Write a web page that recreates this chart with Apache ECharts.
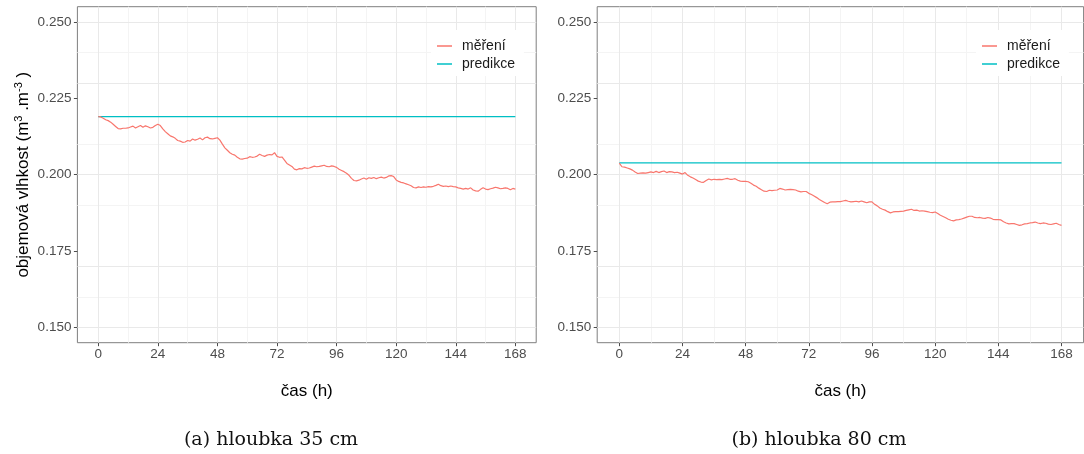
<!DOCTYPE html>
<html>
<head>
<meta charset="utf-8">
<script src="https://cdn.jsdelivr.net/npm/echarts@6/dist/echarts.min.js"></script>
<style>
  html, body { margin: 0; padding: 0; background: #ffffff; }
  #chart { width: 1084px; height: 454px; }
</style>
</head>
<body>
<div id="chart"></div>
<script>
// Hourly soil moisture over one week (0–168 h) at two depths
const hours = Array.from({ length: 169 }, (_, i) => i);

const mereni35 = [
  0.2190, 0.2189, 0.2185, 0.2180, 0.2177, 0.2172, 0.2165, 0.2158, 0.2151, 0.2150,
  0.2152, 0.2152, 0.2153, 0.2156, 0.2159, 0.2153, 0.2157, 0.2161, 0.2155, 0.2160,
  0.2157, 0.2153, 0.2155, 0.2161, 0.2165, 0.2161, 0.2150, 0.2141, 0.2134, 0.2127,
  0.2124, 0.2119, 0.2112, 0.2110, 0.2106, 0.2107, 0.2112, 0.2110, 0.2117, 0.2113,
  0.2116, 0.2120, 0.2114, 0.2121, 0.2123, 0.2118, 0.2117, 0.2119, 0.2121, 0.2113,
  0.2100, 0.2088, 0.2080, 0.2072, 0.2067, 0.2064, 0.2057, 0.2052, 0.2051, 0.2053,
  0.2054, 0.2059, 0.2057, 0.2058, 0.2061, 0.2067, 0.2063, 0.2060, 0.2064, 0.2066,
  0.2065, 0.2072, 0.2060, 0.2057, 0.2058, 0.2048, 0.2037, 0.2032, 0.2027, 0.2018,
  0.2016, 0.2020, 0.2019, 0.2023, 0.2021, 0.2022, 0.2025, 0.2028, 0.2026, 0.2027,
  0.2029, 0.2031, 0.2027, 0.2026, 0.2029, 0.2027, 0.2024, 0.2018, 0.2014, 0.2010,
  0.2005, 0.1998, 0.1988, 0.1981, 0.1980, 0.1982, 0.1986, 0.1989, 0.1985, 0.1990,
  0.1988, 0.1991, 0.1987, 0.1990, 0.1992, 0.1989, 0.1991, 0.1996, 0.1997, 0.1994,
  0.1983, 0.1978, 0.1975, 0.1973, 0.1970, 0.1967, 0.1964, 0.1958, 0.1957, 0.1960,
  0.1958, 0.1960, 0.1959, 0.1961, 0.1960, 0.1962, 0.1965, 0.1969, 0.1964, 0.1962,
  0.1963, 0.1961, 0.1963, 0.1961, 0.1960, 0.1957, 0.1955, 0.1953, 0.1955, 0.1953,
  0.1957, 0.1950, 0.1947, 0.1946, 0.1952, 0.1957, 0.1953, 0.1951, 0.1954, 0.1956,
  0.1959, 0.1957, 0.1954, 0.1955, 0.1957, 0.1955, 0.1951, 0.1955, 0.1953
];

const mereni80 = [
  0.2038, 0.2026, 0.2025, 0.2022, 0.2019, 0.2015, 0.2009, 0.2004, 0.2005, 0.2006,
  0.2005, 0.2007, 0.2009, 0.2007, 0.2011, 0.2007, 0.2010, 0.2012, 0.2007, 0.2010,
  0.2009, 0.2007, 0.2008, 0.2005, 0.2002, 0.2007, 0.1998, 0.1993, 0.1989, 0.1984,
  0.1979, 0.1976, 0.1975, 0.1981, 0.1986, 0.1983, 0.1985, 0.1984, 0.1985, 0.1984,
  0.1986, 0.1988, 0.1985, 0.1985, 0.1987, 0.1982, 0.1979, 0.1978, 0.1978, 0.1977,
  0.1972, 0.1966, 0.1962, 0.1956, 0.1951, 0.1946, 0.1945, 0.1949, 0.1948, 0.1949,
  0.1950, 0.1955, 0.1953, 0.1950, 0.1951, 0.1952, 0.1951, 0.1950, 0.1946, 0.1944,
  0.1945, 0.1945, 0.1939, 0.1935, 0.1930, 0.1925, 0.1919, 0.1914, 0.1909, 0.1905,
  0.1910, 0.1911, 0.1911, 0.1912, 0.1912, 0.1914, 0.1916, 0.1913, 0.1911, 0.1912,
  0.1913, 0.1911, 0.1914, 0.1911, 0.1908, 0.1911, 0.1911, 0.1903, 0.1898, 0.1891,
  0.1887, 0.1884, 0.1879, 0.1875, 0.1878, 0.1879, 0.1879, 0.1880, 0.1881, 0.1883,
  0.1885, 0.1887, 0.1883, 0.1884, 0.1881, 0.1882, 0.1881, 0.1879, 0.1877, 0.1876,
  0.1878, 0.1873, 0.1867, 0.1863, 0.1859, 0.1854, 0.1851, 0.1849, 0.1852, 0.1853,
  0.1855, 0.1858, 0.1861, 0.1864, 0.1864, 0.1860, 0.1859, 0.1860, 0.1858, 0.1857,
  0.1860, 0.1858, 0.1854, 0.1853, 0.1853, 0.1852, 0.1846, 0.1842, 0.1839, 0.1840,
  0.1840, 0.1837, 0.1834, 0.1836, 0.1839, 0.1840, 0.1842, 0.1843, 0.1845, 0.1842,
  0.1840, 0.1842, 0.1841, 0.1838, 0.1837, 0.1839, 0.1841, 0.1837, 0.1834
];

// Model prediction is constant over the whole week
const predHours = [0, 168];
const predikce35 = [0.2190, 0.2190];
const predikce80 = [0.2039, 0.2039];

const xTicks = [0, 24, 48, 72, 96, 120, 144, 168];
const xMinor = [12, 36, 60, 84, 108, 132, 156];
const yTicks = [0.150, 0.175, 0.200, 0.225, 0.250];
const yMinor = [0.1625, 0.1875, 0.2125, 0.2375];

const seriesNames = ['měření', 'predikce'];
const captions = ['(a) hloubka 35 cm', '(b) hloubka 80 cm'];
const xTitle = 'čas (h)';
const yTitle = 'objemová vlhkost (m{sup|3} .m{sup|-3} )';

const COL_MEAS = '#F8766D';
const COL_PRED = '#00BFC4';
const SANS = '"Liberation Sans", Arial, sans-serif';

const panels = [
  { left: 77.4, width: 458.8, meas: mereni35, pred: predikce35, legendLeft: 431, caption: 271 },
  { left: 597.2, width: 486.4, meas: mereni80, pred: predikce80, legendLeft: 976, caption: 819 }
];

function gridLines() {
  const major = { color: '#e9e9e9', width: 1, type: 'solid' };
  const minor = { color: '#f4f4f4', width: 1, type: 'solid' };
  return []
    .concat(xMinor.map(v => ({ xAxis: v, lineStyle: minor })))
    .concat(yMinor.map(v => ({ yAxis: v, lineStyle: minor })))
    .concat(xTicks.map(v => ({ xAxis: v, lineStyle: major })))
    .concat(yTicks.map(v => ({ yAxis: v, lineStyle: major })));
}

const grid = panels.map(p => ({
  left: p.left, top: 6.7, width: p.width, height: 336,
  show: true, borderColor: '#7f7f7f', borderWidth: 1, backgroundColor: '#ffffff',
  containLabel: false, outerBoundsMode: 'none'
}));

const xAxis = panels.map((p, i) => ({
  type: 'value', gridIndex: i, min: -8.4, max: 176.4, position: 'bottom',
  name: xTitle, nameLocation: 'middle', nameGap: 40,
  nameTextStyle: { fontFamily: SANS, fontSize: 17, color: '#000' },
  axisLine: { show: false, onZero: false },
  axisTick: { show: true, length: 3.5, customValues: xTicks, lineStyle: { color: '#4d4d4d', width: 1 } },
  axisLabel: { customValues: xTicks, margin: 5, fontFamily: SANS, fontSize: 13.5, color: '#4d4d4d' },
  splitLine: { show: false }
}));

const yAxis = panels.map((p, i) => ({
  type: 'value', gridIndex: i, min: 0.145, max: 0.255, position: 'left',
  name: i === 0 ? yTitle : '', nameLocation: 'middle', nameGap: 44, nameRotate: 90,
  nameTextStyle: {
    fontFamily: SANS, fontSize: 17, color: '#000',
    rich: { sup: { fontFamily: SANS, fontSize: 11, color: '#000', padding: [0, 0, 9, 0] } }
  },
  axisLine: { show: false, onZero: false },
  axisTick: { show: true, length: 3.5, customValues: yTicks, lineStyle: { color: '#4d4d4d', width: 1 } },
  axisLabel: {
    customValues: yTicks, margin: 6, fontFamily: SANS, fontSize: 13.5, color: '#4d4d4d',
    formatter: v => v.toFixed(3)
  },
  splitLine: { show: false }
}));

const series = [];
panels.forEach((p, i) => {
  series.push({
    name: seriesNames[1], type: 'line', xAxisIndex: i, yAxisIndex: i,
    data: predHours.map((h, k) => [h, p.pred[k]]),
    symbol: 'none', showSymbol: false, z: 3,
    lineStyle: { width: 1.3, color: COL_PRED }, itemStyle: { color: COL_PRED },
    markLine: {
      silent: true, symbol: 'none', z: 1, animation: false,
      label: { show: false }, emphasis: { disabled: true },
      data: gridLines()
    }
  });
  series.push({
    name: seriesNames[0], type: 'line', xAxisIndex: i, yAxisIndex: i,
    data: hours.map((h, k) => [h, p.meas[k]]),
    symbol: 'none', showSymbol: false, z: 4,
    lineStyle: { width: 1.2, color: COL_MEAS }, itemStyle: { color: COL_MEAS }
  });
});

const legend = panels.map(p => ({
  left: p.legendLeft, top: 30, orient: 'vertical',
  data: seriesNames, selectedMode: false,
  icon: 'rect', itemWidth: 15, itemHeight: 1.5, itemGap: 2,
  padding: [8, 9, 4, 6], backgroundColor: '#ffffff',
  textStyle: { fontFamily: SANS, fontSize: 14, color: '#1a1a1a', lineHeight: 16, padding: [0, 0, 0, 5] }
}));

const graphic = panels.map((p, i) => ({
  type: 'text', x: p.caption, y: 440,
  style: {
    text: captions[i], font: '19px "DejaVu Serif", serif', fill: '#111',
    textAlign: 'center', textVerticalAlign: 'middle'
  }
}));

const chart = echarts.init(document.getElementById('chart'), null, { renderer: 'canvas' });
chart.setOption({
  animation: false,
  backgroundColor: '#ffffff',
  grid, xAxis, yAxis, series, legend, graphic
});
</script>
</body>
</html>
